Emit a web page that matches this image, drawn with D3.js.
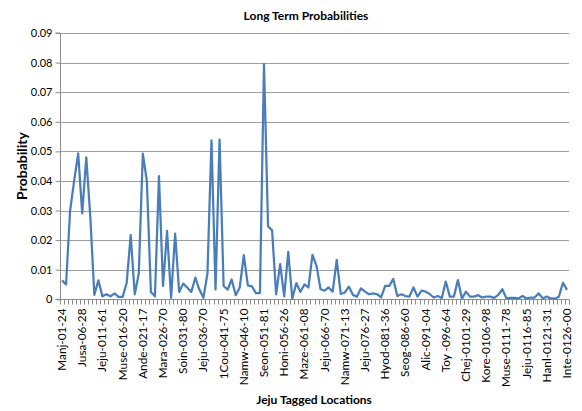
<!DOCTYPE html>
<html><head><meta charset="utf-8">
<script src="https://cdn.jsdelivr.net/npm/d3@7/dist/d3.min.js"></script>
<style>body{margin:0;background:#fff}svg{display:block}text{font-family:Lato,"Open Sans",sans-serif}</style>
</head><body>
<svg id="c" width="582" height="411"></svg>
<script>
const values = [
0.0064,0.0050,0.0300,0.0400,0.0493,0.0290,0.0480,0.0280,0.0015,0.0064,
0.0010,0.0017,0.0010,0.0020,0.0008,0.0008,0.0055,0.0217,0.0017,0.0087,
0.0492,0.0400,0.0025,0.0010,0.0416,0.0045,0.0231,0.0005,0.0222,0.0025,
0.0053,0.0040,0.0025,0.0073,0.0033,0.0005,0.0087,0.0537,0.0033,0.0540,
0.0045,0.0033,0.0067,0.0014,0.0040,0.0149,0.0047,0.0044,0.0021,0.0021,
0.0795,0.0247,0.0233,0.0017,0.0119,0.0010,0.0160,0.0002,0.0055,0.0025,
0.0050,0.0040,0.0150,0.0113,0.0034,0.0029,0.0040,0.0026,0.0133,0.0018,
0.0023,0.0043,0.0015,0.0009,0.0037,0.0026,0.0017,0.0020,0.0017,0.0007,
0.0045,0.0045,0.0069,0.0011,0.0017,0.0011,0.0009,0.0040,0.0009,0.0029,
0.0026,0.0018,0.0006,0.0011,0.0004,0.0060,0.0009,0.0009,0.0065,0.0002,
0.0026,0.0009,0.0009,0.0014,0.0006,0.0009,0.0009,0.0005,0.0015,0.0034,
0.0003,0.0005,0.0005,0.0003,0.0011,0.0003,0.0006,0.0006,0.0020,0.0003,
0.0009,0.0003,0.0002,0.0009,0.0056,0.0032];
const tickLabels = ["Manj-01-24","Jusa-06-28","Jeju-011-61","Muse-016-20","Ande-021-17","Mara-026-70",
"Soin-031-80","Jeju-036-70","1Cou-041-75","Namw-046-10","Seon-051-81","Honi-056-26","Maze-061-08",
"Jeju-066-70","Namw-071-13","Jeju-076-27","Hyod-081-36","Seog-086-60","Alic-091-04","Toy -096-64",
"Chej-0101-29","Kore-0106-98","Muse-0111-78","Jeju-0116-85","Hanl-0121-31","Inte-0126-00"];
const yTicks = [0,0.01,0.02,0.03,0.04,0.05,0.06,0.07,0.08,0.09];
const labelEvery = 5;

const L=60, R=569, T=33, B=299.3;
const svg = d3.select("#c");
const idx = d3.range(values.length);
const x = d3.scaleBand().domain(idx).range([L,R]).paddingInner(0).paddingOuter(0);
const y = d3.scaleLinear().domain([0,0.09]).range([B,T]);

// gridlines
svg.append("g").selectAll("line").data(yTicks.slice(1)).join("line")
  .attr("x1",L).attr("x2",R).attr("y1",d=>Math.round(y(d))+0.5).attr("y2",d=>Math.round(y(d))+0.5)
  .attr("stroke","#9e9e9e").attr("stroke-width",1);

// y axis
const ya = svg.append("g").attr("transform",`translate(${L+0.5},0)`)
  .call(d3.axisLeft(y).tickValues(yTicks).tickFormat(d=>d===0?"0":d3.format(".2f")(d)).tickSize(5).tickPadding(3));
ya.select(".domain").attr("stroke","#8c8c8c").attr("d",`M-5,${B}H0V${T}H-5`);
ya.selectAll(".tick line").attr("stroke","#8c8c8c");
ya.selectAll(".tick text").attr("font-size","11px").attr("fill","#000").attr("font-family","Lato, sans-serif");

// x axis
const xa = svg.append("g").attr("transform",`translate(0,${Math.round(B)+0.5})`);
xa.append("line").attr("x1",L).attr("x2",R).attr("stroke","#8c8c8c");
xa.selectAll("line.t").data(d3.range(values.length+1)).join("line").attr("class","t")
  .attr("x1",d=>Math.round(L+d*x.bandwidth())+0.5).attr("x2",d=>Math.round(L+d*x.bandwidth())+0.5)
  .attr("y1",0).attr("y2",5).attr("stroke","#8c8c8c");
const tl = idx.filter(i=>i%labelEvery===0);
xa.selectAll("text").data(tl).join("text")
  .attr("transform",d=>`translate(${x(d)+x.bandwidth()/2+4},9) rotate(-90)`)
  .attr("text-anchor","end").attr("font-size","11.8px").attr("fill","#000")
  .text(d=>tickLabels[d/labelEvery]);

// line
svg.append("path").datum(values)
  .attr("d",d3.line().x((d,i)=>x(i)+x.bandwidth()/2).y(d=>y(d)))
  .attr("fill","none").attr("stroke","#4a7ebb").attr("stroke-width",2.25).attr("stroke-linejoin","round");

// titles
svg.append("text").attr("x",306).attr("y",20).attr("text-anchor","middle")
  .attr("font-size","12px").attr("font-weight","bold").text("Long Term Probabilities");
svg.append("text").attr("x",314).attr("y",404).attr("text-anchor","middle")
  .attr("font-size","12px").attr("font-weight","bold").text("Jeju Tagged Locations");
svg.append("text").attr("transform","translate(27,166) rotate(-90)").attr("text-anchor","middle")
  .attr("font-size","14px").attr("font-weight","bold").text("Probability");
</script>
</body></html>
